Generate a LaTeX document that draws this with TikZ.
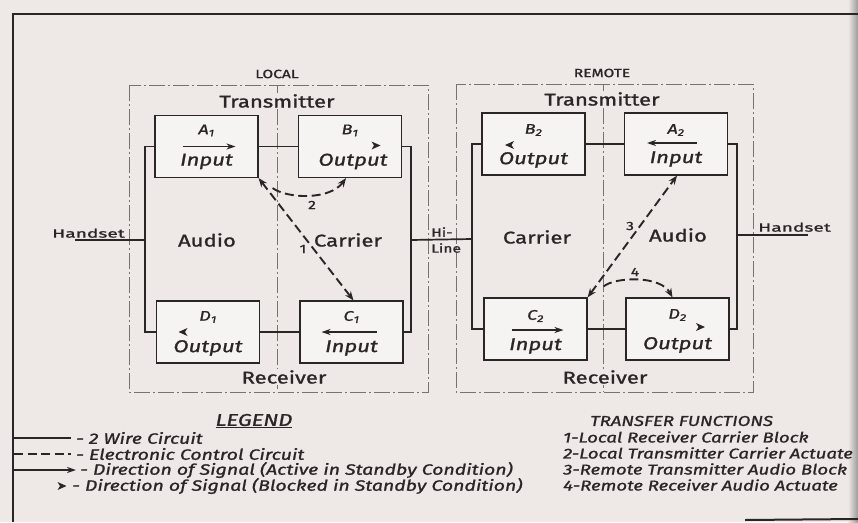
\documentclass[tikz,border=0pt]{standalone}
\usepackage{fontspec}
\setmainfont{Fira Sans}
\newfontfamily\hand[FakeStretch=1.3,FakeBold=1.3]{Fira Sans}
\newfontfamily\handwide[FakeStretch=1.6,FakeBold=1.3]{Fira Sans}
\usetikzlibrary{arrows.meta,calc}
\definecolor{paper}{HTML}{EEE9E7}
\definecolor{ink}{HTML}{2B2626}
\definecolor{faint}{HTML}{77716F}
\begin{document}
\begin{tikzpicture}[x=1pt,y=-1pt,
  block/.style={draw=ink,line width=1.2pt,fill=paper!50!white,minimum width=103pt,minimum height=62pt,inner sep=0pt},
  wire/.style={draw=ink,line width=1.7pt},
  zone/.style={draw=faint,line width=0.8pt,dash pattern=on 16pt off 3pt on 2pt off 3pt},
  ctrl/.style={draw=ink,line width=1.9pt,dash pattern=on 9pt off 4.5pt},
  sig/.style={draw=ink,line width=1.2pt,-{Stealth[length=9pt,width=6pt]}},
  lbl/.style={font=\hand\fontsize{17}{17}\selectfont,text=ink,inner sep=0pt},
  ilbl/.style={font=\hand\itshape\fontsize{17}{17}\selectfont,text=ink,inner sep=0pt},
  sub/.style={font=\hand\itshape\fontsize{14}{14}\selectfont,text=ink,inner sep=0pt},
  small/.style={font=\hand\fontsize{12}{12}\selectfont,text=ink,inner sep=0pt},
  hset/.style={font=\handwide\fontsize{12}{12}\selectfont,text=ink,inner sep=0pt},
  leg/.style={font=\hand\itshape\fontsize{15}{15}\selectfont,text=ink,inner sep=0pt,anchor=west},
  tfun/.style={font=\hand\itshape\fontsize{14.3}{14.3}\selectfont,text=ink,inner sep=0pt,anchor=west},
  num/.style={font=\hand\fontsize{12}{12}\selectfont,text=ink,inner sep=0pt},
  blocked/.pic={\fill[ink] (4.5,0) -- (-4.5,-4) -- (-2,0) -- (-4.5,4) -- cycle;}
]
\useasboundingbox (0,0) rectangle (858,522);
\clip (0,0) rectangle (858,522);
\fill[paper] (0,0) rectangle (858,522);
\shade[left color=paper,right color=black!40] (848,0) rectangle (858,522);
% frame
\draw[ink,line width=2.6pt] (13,522) -- (13,14) -- (858,14);
\draw[ink,line width=2pt] (745,520) -- (858,519);

% zones
\draw[zone] (129,85) rectangle (428,392);
\draw[zone] (277,85) -- (277,392);
\draw[zone] (456,84) rectangle (753,392);
\draw[zone] (603,84) -- (603,392);

\node[small] (local) at (277,74) {LOCAL};
\node[small] (remote) at (602,73) {REMOTE};
\node[lbl,fill=paper,inner sep=1pt] (tx1) at (277,101) {Transmitter};
\node[lbl,fill=paper,inner sep=1pt] (tx2) at (602,99) {Transmitter};
\node[lbl,fill=paper,inner sep=1pt] (rx1) at (284,377) {Receiver};
\node[lbl,fill=paper,inner sep=1pt] (rx2) at (605,377) {Receiver};

% blocks
\node[block] (A1) at (206.5,146.5) {};
\node[block] (B1) at (350,146.5) {};
\node[block] (D1) at (208,332) {};
\node[block] (C1) at (351.5,332) {};
\node[block] (B2) at (533.5,144) {};
\node[block] (A2) at (676,144) {};
\node[block] (C2) at (535.5,329) {};
\node[block] (D2) at (677.5,329) {};

% block contents
\node[sub] (A1l) at ($(A1)+(0,-16)$) {A\textsubscript{1}};
\draw[sig] ($(A1)+(-24,0)$) -- ($(A1)+(29,0)$);
\node[ilbl] (A1t) at ($(A1)+(0,15)$) {Input};
\node[sub] (B1l) at ($(B1)+(0,-16)$) {B\textsubscript{1}};
\pic at ($(B1)+(26,-1)$) {blocked};
\node[ilbl] (B1t) at ($(B1)+(3,15)$) {Output};
\node[sub] (D1l) at ($(D1)+(0,-15)$) {D\textsubscript{1}};
\pic[rotate=180] at ($(D1)+(-25,0)$) {blocked};
\node[ilbl] (D1t) at ($(D1)+(0,16)$) {Output};
\node[sub] (C1l) at ($(C1)+(0,-15)$) {C\textsubscript{1}};
\draw[sig] ($(C1)+(25,0)$) -- ($(C1)+(-30,0)$);
\node[ilbl] (C1t) at ($(C1)+(0,16)$) {Input};

\node[sub] (B2l) at ($(B2)+(0,-14)$) {B\textsubscript{2}};
\pic[rotate=180] at ($(B2)+(-24,1)$) {blocked};
\node[ilbl] (B2t) at ($(B2)+(0,16)$) {Output};
\node[sub] (A2l) at ($(A2)+(0,-14)$) {A\textsubscript{2}};
\draw[sig] ($(A2)+(21,-1)$) -- ($(A2)+(-29,-1)$);
\node[ilbl] (A2t) at ($(A2)+(0,15)$) {Input};
\node[sub] (C2l) at ($(C2)+(0,-13)$) {C\textsubscript{2}};
\draw[sig] ($(C2)+(-24,1)$) -- ($(C2)+(28,1)$);
\node[ilbl] (C2t) at ($(C2)+(0,17)$) {Input};
\node[sub] (D2l) at ($(D2)+(0,-14)$) {D\textsubscript{2}};
\pic at ($(D2)+(23,-2)$) {blocked};
\node[ilbl] (D2t) at ($(D2)+(0,16)$) {Output};

% wires
\coordinate (busL1) at (145,240);
\coordinate (busR1) at (411,240);
\coordinate (busL2) at (472,239);
\coordinate (busR2) at (737,235);
\coordinate (hsL) at (75,240);
\coordinate (hsR) at (808,235);
\draw[wire] (A1.west) -| (busL1) |- (D1.west);
\draw[wire] (B1.east) -| (busR1) |- (C1.east);
\draw[wire] (A1.east) -- (B1.west);
\draw[wire] (D1.east) -- (C1.west);
\draw[wire] (B2.west) -| (busL2) |- (C2.west);
\draw[wire] (A2.east) -| (busR2) |- (D2.east);
\draw[wire] (B2.east) -- (A2.west);
\draw[wire] (C2.east) -- (D2.west);
\draw[wire] (hsL) -- (busL1);
\draw[wire] (busR1) -- (busL2);
\draw[wire] (busR2) -- (hsR);

\node[hset,anchor=south west] (hs1) at (52,238) {Handset};
\node[hset,anchor=south west] (hs2) at (758,232) {Handset};
\node[small,anchor=west] (hi) at (431,232) {Hi-};
\node[small,anchor=west] (li) at (431,248) {Line};

\node[lbl] (au1) at (207,240) {Audio};
\node[lbl] (ca1) at (348,240) {Carrier};
\node[lbl] (ca2) at (537,237) {Carrier};
\node[lbl] (au2) at (678,235) {Audio};

% control (transfer) paths
\draw[ctrl,{Stealth[length=9pt,width=7pt]}-{Stealth[length=9pt,width=7pt]}] (A1.south east) -- ($(C1.north)+(2,0)$);
\node[num] (n1) at (303,249) {1};
\draw[ctrl,-{Stealth[length=9pt,width=7pt]}] ($(A1.south east)+(14,10)$) .. controls (288,199) and (330,200) .. ($(B1.south)+(-4,0)$);
\node[num] (n2) at (312,205) {2};
\draw[ctrl,{Stealth[length=9pt,width=7pt]}-{Stealth[length=9pt,width=7pt]}] (C2.north east) -- ($(A2.south)+(1,0)$);
\node[num] (n3) at (630,226) {3};
\draw[ctrl,-{Stealth[length=9pt,width=7pt]}] ($(C2.north east)+(16,-11)$) .. controls (615,277) and (660,275) .. ($(D2.north)+(-5,0)$);
\node[num] (n4) at (635,272) {4};

% legend
\node[leg,anchor=center,font=\hand\itshape\fontsize{17}{17}\selectfont] (legend) at (254,421) {\underline{LEGEND}};
\coordinate (l1a) at (14,438); \coordinate (l1b) at (71,438);
\coordinate (l2a) at (14,454); \coordinate (l2b) at (71,454);
\coordinate (l3a) at (14,470); \coordinate (l3b) at (76,470);
\draw[ink,line width=1.5pt] (l1a) -- (l1b);
\draw[ctrl,line width=1.5pt] (l2a) -- (l2b);
\draw[sig,line width=1.7pt] (l3a) -- (l3b);
\pic at (62,486) {blocked};
\node[leg] (t1) at (76,438) {- 2 Wire Circuit};
\node[leg] (t2) at (76,454) {- Electronic Control Circuit};
\node[leg] (t3) at (80,470) {- Direction of Signal (Active in Standby Condition)};
\node[leg] (t4) at (72,486) {- Direction of Signal (Blocked in Standby Condition)};

\node[tfun] (tf) at (590,421) {TRANSFER FUNCTIONS};
\node[tfun] (f1) at (563,437) {1-Local Receiver Carrier Block};
\node[tfun] (f2) at (563,453) {2-Local Transmitter Carrier Actuate};
\node[tfun] (f3) at (563,469) {3-Remote Transmitter Audio Block};
\node[tfun] (f4) at (563,485) {4-Remote Receiver Audio Actuate};
\end{tikzpicture}
\end{document}
